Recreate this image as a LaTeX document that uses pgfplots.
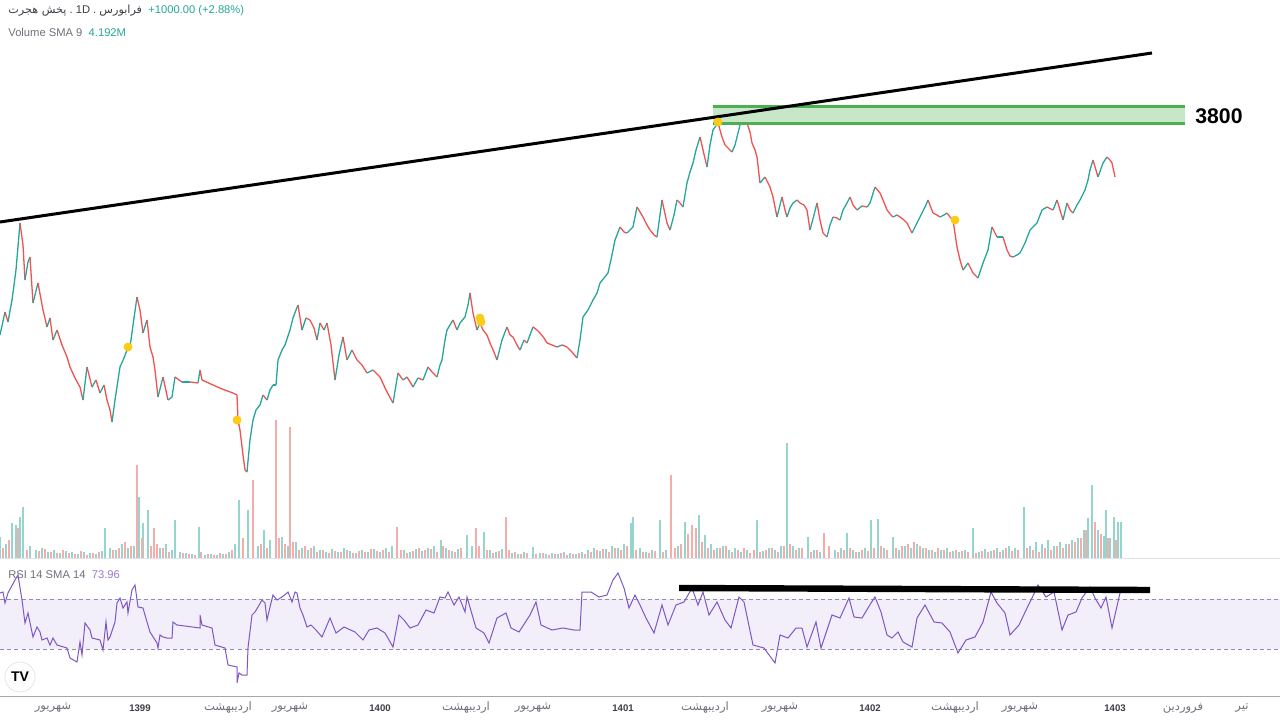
\documentclass[border=0pt]{standalone}
\usepackage{fontspec}
\setmainfont{Liberation Sans}
\newfontfamily\fa[Script=Arabic]{DejaVu Sans}
\TeXXeTstate=1
\usepackage{pgfplots}
\usepackage{pgfplotstable}
\pgfplotsset{compat=1.18}

\definecolor{tvgreen}{RGB}{38,166,154}
\definecolor{tvred}{RGB}{239,83,80}
\definecolor{volgreen}{RGB}{150,212,206}
\definecolor{volred}{RGB}{246,172,170}
\definecolor{tvpurple}{RGB}{126,87,194}
\definecolor{rsifill}{RGB}{242,238,250}
\definecolor{rsidash}{RGB}{150,140,170}
\definecolor{zonefill}{RGB}{200,231,201}
\definecolor{zoneline}{RGB}{76,175,80}
\definecolor{tvyellow}{RGB}{250,204,21}
\definecolor{txtgray}{RGB}{110,113,122}
\definecolor{txtdark}{RGB}{60,62,70}
\definecolor{sepgray}{RGB}{224,227,235}

\tikzset{
  hdr/.style={font=\fontsize{5.6}{6.5}\selectfont, inner sep=0pt, anchor=west},
  tlbl/.style={font=\fontsize{5.8}{6.5}\selectfont, inner sep=0pt, text=txtgray},
  ylbl/.style={font=\fontsize{4.8}{5.5}\selectfont\bfseries, inner sep=0pt, text=txtdark},
}

% x and y are pixel positions (y counted from the top)
\pgfplotstableread{
x y c
0 335 0
5 312 1
8 322 0
12 300 0
16 270 0
20 223 1
23 245 1
25 280 0
28 262 0
30 257 1
33 303 0
38 283 1
43 310 1
47 327 0
50 318 1
53 340 0
57 330 1
62 345 1
67 357 1
70 367 1
75 378 1
80 387 1
83 400 0
87 367 1
92 387 0
96 380 1
100 393 0
104 385 1
107 400 1
110 410 1
112 422 0
115 400 0
120 367 0
124 358 0
127 350 0
130 347 0
134 318 0
137 297 1
140 310 1
143 333 0
147 320 1
150 347 1
153 357 1
155 370 1
158 397 0
163 377 1
168 400 0
172 397 0
175 377 1
182 382 0
190 382 1
198 383 0
200 370 1
202 380 1
213 385 1
222 389 1
233 393 1
237 395 1
238 420 1
240 430 1
243 455 1
245 470 1
247 472 0
250 440 0
253 420 0
256 410 0
260 405 0
263 395 1
267 400 0
270 390 0
273 385 0
276 385 0
278 360 0
282 350 0
285 345 0
290 330 0
293 318 0
296 310 0
298 305 1
302 330 0
306 318 1
310 320 1
314 328 1
317 340 0
320 323 1
324 330 0
327 323 1
331 345 1
335 380 0
339 355 0
343 337 1
347 360 0
352 350 1
357 360 1
362 365 1
367 373 0
373 370 1
380 377 1
386 390 1
393 403 0
398 373 1
403 380 0
407 377 1
413 387 0
418 378 1
423 380 0
428 367 1
432 372 1
437 377 0
440 365 0
442 360 0
445 340 0
447 330 0
450 325 0
453 320 1
457 330 0
460 323 0
465 317 0
468 305 0
470 293 1
473 313 1
477 330 0
480 323 1
483 330 1
487 335 1
490 343 1
494 352 1
497 360 0
502 340 0
507 327 1
510 335 1
513 337 1
517 345 1
520 350 0
524 340 1
527 343 0
530 335 0
533 327 1
537 330 1
540 333 1
544 338 1
547 343 1
552 345 1
557 347 0
562 345 1
567 347 1
572 352 1
577 358 0
580 340 0
583 317 0
588 310 0
593 300 0
597 293 0
600 283 0
604 278 0
608 273 0
612 255 0
615 240 0
620 227 1
624 232 1
627 233 0
630 230 0
633 227 0
637 207 1
640 212 1
643 217 1
647 225 1
650 230 1
654 235 1
657 237 0
662 200 1
667 223 1
670 230 0
674 215 0
677 200 1
680 203 1
683 207 0
687 183 0
690 172 0
693 163 0
696 150 0
700 137 1
703 150 1
707 167 0
710 145 0
713 130 0
718 123 1
722 137 1
725 145 1
727 147 1
730 150 1
732 152 0
735 145 0
737 137 0
740 125 0
742 117 1
745 118 1
747 123 1
750 132 1
752 143 1
755 150 1
757 157 1
760 183 0
765 177 1
770 187 1
773 197 1
777 217 0
780 205 0
782 197 1
785 210 1
787 217 0
790 208 0
793 203 0
797 200 1
800 203 1
804 205 1
807 210 1
810 230 0
814 215 0
817 203 1
820 220 1
823 233 1
827 237 0
830 225 0
833 217 1
837 218 1
840 220 0
843 210 0
847 203 0
850 197 1
853 205 1
857 210 0
862 206 1
867 207 0
870 203 0
875 187 1
880 193 1
883 200 1
887 210 1
890 214 1
893 217 0
897 215 1
900 217 1
904 220 1
907 223 1
912 233 0
917 223 0
922 213 0
925 207 0
928 200 1
933 213 1
937 215 1
940 217 0
944 215 0
947 213 1
950 217 1
953 220 1
957 247 1
960 260 1
963 270 0
968 263 1
973 273 1
978 278 0
983 263 0
988 250 0
992 227 1
997 237 0
1003 237 1
1007 250 1
1010 256 1
1013 257 0
1017 255 0
1020 253 0
1025 243 0
1030 230 0
1033 227 0
1037 223 0
1042 210 0
1047 207 1
1053 210 0
1057 200 1
1060 210 1
1063 220 0
1067 203 1
1070 210 1
1073 213 0
1077 205 0
1080 200 0
1085 190 0
1088 180 0
1090 170 0
1093 160 1
1098 177 0
1103 163 0
1107 157 1
1110 160 1
1112 163 1
1115 177 0
}\price

\pgfplotstableread{
x y
0 593
3 592
5 603
8 593
15 580
18 575
22 600
25 623
28 613
33 637
37 627
40 632
42 640
47 638
50 645
53 638
57 645
67 648
70 658
77 662
80 642
82 655
85 623
90 630
92 638
100 640
103 650
106 622
108 640
110 637
115 622
117 603
120 598
123 608
127 602
128 613
132 590
135 585
138 607
143 608
147 622
150 632
157 643
158 648
160 635
163 637
167 638
172 638
173 622
177 625
200 628
200 615
202 625
212 628
215 645
225 648
228 665
237 667
237 683
239 673
242 675
247 675
248 648
252 615
255 612
258 607
262 600
265 603
267 620
270 607
273 595
277 600
282 597
287 593
288 592
292 602
295 592
297 593
300 608
303 615
307 627
311 625
316 630
322 637
330 618
336 633
344 627
355 632
363 640
369 630
377 628
385 633
393 647
399 615
404 620
410 628
418 625
426 610
434 613
440 597
445 598
448 592
454 605
459 597
465 612
467 597
476 628
484 633
489 643
497 618
506 613
511 628
519 632
530 615
536 602
541 625
552 630
563 628
574 630
580 630
582 592
591 592
599 597
607 595
613 580
618 573
624 588
629 608
635 595
640 605
646 618
654 633
662 605
668 625
676 605
684 602
692 588
698 605
703 592
709 615
717 602
725 620
731 628
739 597
744 602
753 645
764 648
775 663
780 635
788 638
796 628
802 628
807 647
816 622
821 648
832 615
840 618
849 598
854 617
862 618
871 603
875 597
881 612
887 635
892 638
898 632
903 642
912 647
917 618
925 605
934 622
942 623
950 632
958 653
966 640
975 637
983 622
991 592
997 603
1005 613
1010 635
1019 625
1027 608
1032 598
1038 585
1046 597
1054 592
1062 630
1068 615
1076 612
1082 598
1090 587
1095 598
1101 608
1106 597
1112 628
1120 593
}\rsi

% volume: bar height in pixels above the volume baseline
\pgfplotstableread{
x h
0 21
6 14
12 35
16 33
20 41
23 51
30 12
36 8
42 10
48 6
54 8
60 5
66 7
72 6
78 4
84 6
90 5
96 4
102 7
105 30
110 10
116 8
122 14
128 10
134 12
139 61
143 35
148 48
160 10
166 14
172 8
175 38
180 6
186 5
192 4
199 31
205 3
211 4
217 3
223 4
229 6
235 14
239 58
248 48
258 12
264 28
270 18
282 21
288 12
296 16
302 10
308 8
314 12
320 8
326 6
332 9
338 6
344 10
350 7
356 5
362 8
368 6
374 9
380 6
386 10
392 12
404 8
410 6
416 9
422 7
428 10
434 12
441 18
446 10
452 7
458 9
467 23
472 12
484 26
490 8
496 6
502 9
512 5
518 4
524 6
533 11
540 5
546 4
552 5
558 4
564 6
570 5
576 4
582 6
588 8
594 10
600 7
606 9
612 12
618 10
624 14
631 35
633 41
640 10
646 6
652 8
660 38
666 8
678 12
685 36
699 43
705 23
711 14
717 10
723 12
729 8
735 10
741 6
747 8
757 38
763 7
769 10
775 8
781 12
787 115
793 12
799 10
808 21
814 8
820 6
835 8
841 10
847 25
853 8
859 6
865 10
871 38
878 39
884 10
893 21
899 8
905 12
911 10
917 14
923 10
929 8
935 6
941 8
947 10
953 7
959 6
965 8
973 30
979 6
985 9
991 7
997 10
1003 8
1009 12
1015 10
1024 51
1030 12
1036 16
1042 14
1048 18
1054 12
1060 16
1066 14
1072 18
1078 20
1084 28
1088 40
1092 73
1098 28
1104 22
1106 48
1110 20
1114 41
1118 36
1121 36
}\volup

\pgfplotstableread{
x h
3 10
9 18
18 30
27 8
39 7
45 9
51 6
57 5
63 8
69 5
75 4
81 7
87 3
93 5
99 6
113 8
119 10
125 16
131 12
137 93
142 20
151 12
154 30
157 14
163 10
169 6
183 5
189 4
195 3
201 6
208 4
214 3
220 5
226 4
232 8
243 20
253 78
261 14
267 10
276 138
279 20
285 14
290 131
293 16
299 8
305 12
311 10
317 6
323 8
329 5
335 7
341 6
347 8
353 5
359 7
365 6
371 9
377 7
383 8
389 6
397 31
401 8
407 5
413 7
419 10
425 8
431 9
437 6
443 12
449 8
455 6
461 10
476 30
479 12
487 8
493 5
499 7
506 41
509 8
515 6
521 4
527 5
536 4
543 5
549 3
555 4
561 5
567 3
573 4
579 5
585 4
591 6
597 8
603 9
609 6
615 10
621 8
627 12
636 8
643 6
649 5
655 7
663 6
671 83
675 10
681 14
688 24
692 33
696 30
702 16
708 10
714 8
720 10
726 12
732 6
738 8
744 10
750 5
754 8
760 6
766 8
772 10
778 6
784 12
790 14
796 8
802 10
811 6
817 8
824 25
829 12
838 6
844 8
850 10
856 6
862 8
868 7
874 10
881 12
887 8
896 10
902 12
908 14
914 16
920 12
926 10
932 8
938 10
944 8
950 6
956 8
962 7
968 6
976 5
982 7
988 6
994 8
1000 6
1006 10
1012 7
1018 8
1027 10
1033 8
1039 6
1045 10
1051 8
1057 12
1063 10
1069 14
1075 16
1081 20
1086 28
1095 36
1101 24
1108 20
1116 18
}\voldown

\begin{document}
\begin{tikzpicture}
\begin{axis}[
  name=ax,
  width=640pt, height=359.5pt, scale only axis,
  xmin=0, xmax=1280, ymin=-161, ymax=558,
  hide axis, clip=false,
  colormap={tvcm}{rgb255(0)=(38,166,154) rgb255(1)=(239,83,80)},
]
% RSI panel background
\addplot[draw=none, fill=rsifill] coordinates {(0,-41) (1280,-41) (1280,-91) (0,-91) (0,-41)};
\addplot[rsidash, line width=0.4pt, dash pattern=on 2pt off 1.6pt] coordinates {(0,-41) (1280,-41)};
\addplot[rsidash, line width=0.4pt, dash pattern=on 2pt off 1.6pt] coordinates {(0,-91) (1280,-91)};
\addplot[sepgray, line width=0.5pt] coordinates {(0,0) (1280,0)};
\addplot[black!35, line width=0.5pt] coordinates {(0,-138) (1280,-138)};

% volume
\addplot[ycomb, volgreen, line width=0.8pt] table[x=x, y=h] {\volup};
\addplot[ycomb, volred, line width=0.8pt] table[x=x, y=h] {\voldown};

% price
\addplot[mesh, shader=flat corner, point meta=explicit, point meta min=0, point meta max=1,
  line width=0.65pt] table[x=x, y expr=558-\thisrow{y}, meta=c] {\price};

% resistance zone and trend line
\addplot[draw=none, fill=zonefill] coordinates {(713,434) (1185,434) (1185,451) (713,451) (713,434)};
\addplot[zoneline, line width=1.5pt] coordinates {(713,451) (1185,451)};
\addplot[zoneline, line width=1.5pt] coordinates {(713,434) (1185,434)};
\addplot[black, line width=1.5pt] coordinates {(0,336) (1152,505)};
\node[anchor=west, inner sep=0pt, font=\fontsize{10.6}{11}\selectfont\bfseries] at (axis cs:1195,442) {3800};

\addplot[only marks, mark=*, mark size=2pt, tvyellow] coordinates {(128,211) (237,138) (480,240) (481,236) (718,436) (955,338)};

% RSI
\addplot[tvpurple, line width=0.5pt] table[x=x, y expr=558-\thisrow{y}] {\rsi};
\addplot[black, line width=3.2pt] coordinates {(679,-30) (1150,-32)};

% header texts
\node[hdr, text=txtdark] at (axis cs:8,547)
  {{\fa\beginR پخش هجرت\endR}\ .\ 1D\ .\ {\fa\beginR فرابورس\endR}\ \ \textcolor{tvgreen}{+1000.00 (+2.88\%)}};
\node[hdr, text=txtgray] at (axis cs:8,526) {Volume SMA 9\ \ \textcolor{tvgreen}{4.192M}};
\node[hdr, text=txtgray] at (axis cs:8,-17) {RSI 14 SMA 14\ \ \textcolor{tvpurple!80}{73.96}};

% logo
\node[circle, fill=white, draw=black!10, minimum size=15pt, inner sep=0pt] at (axis cs:20,-119)
  {\fontsize{7}{7}\selectfont\bfseries TV};

% time axis labels
\node[tlbl] at (axis cs:53,-150) {\fa\beginR شهریور\endR};
\node[ylbl] at (axis cs:140,-150) {1399};
\node[tlbl] at (axis cs:228,-150) {\fa\beginR اردیبهشت\endR};
\node[tlbl] at (axis cs:290,-150) {\fa\beginR شهریور\endR};
\node[ylbl] at (axis cs:380,-150) {1400};
\node[tlbl] at (axis cs:466,-150) {\fa\beginR اردیبهشت\endR};
\node[tlbl] at (axis cs:533,-150) {\fa\beginR شهریور\endR};
\node[ylbl] at (axis cs:623,-150) {1401};
\node[tlbl] at (axis cs:705,-150) {\fa\beginR اردیبهشت\endR};
\node[tlbl] at (axis cs:780,-150) {\fa\beginR شهریور\endR};
\node[ylbl] at (axis cs:870,-150) {1402};
\node[tlbl] at (axis cs:955,-150) {\fa\beginR اردیبهشت\endR};
\node[tlbl] at (axis cs:1020,-150) {\fa\beginR شهریور\endR};
\node[ylbl] at (axis cs:1115,-150) {1403};
\node[tlbl] at (axis cs:1183,-150) {\fa\beginR فروردین\endR};
\node[tlbl] at (axis cs:1242,-150) {\fa\beginR تیر\endR};
\end{axis}
\pgfresetboundingbox
\path (ax.south west) rectangle (ax.north east);
\end{tikzpicture}
\end{document}
